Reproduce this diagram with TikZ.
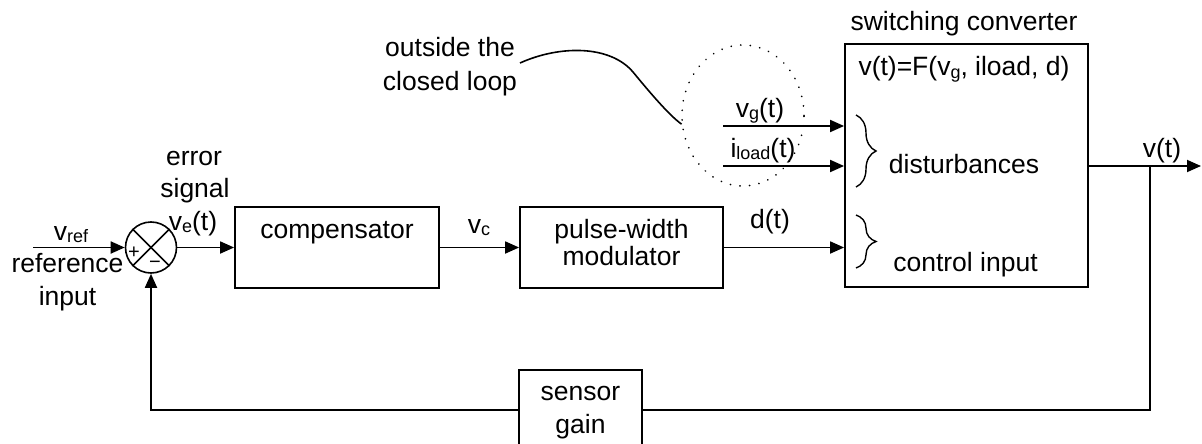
\documentclass[tikz,border=0pt]{standalone}
\usepackage{fontspec}
\setmainfont{Liberation Sans}
\usetikzlibrary{arrows.meta,shapes.geometric,decorations.pathreplacing}

% smaller, slightly lowered index text (v_ref, v_e, ...)
\newcommand{\lowtxt}[1]{\raisebox{-2pt}{\fontsize{18}{18}\selectfont #1}}

\tikzset{
  txt/.style={anchor=base, inner sep=0pt, font=\fontsize{26.5}{31}\selectfont},
  signtxt/.style={anchor=base, inner sep=0pt, font=\fontsize{20}{20}\selectfont},
  blockbox/.style={draw, line width=1.8pt, rectangle, inner sep=0pt},
  wire/.style={line width=1.8pt},
  sig/.style={wire, -{Triangle[length=14pt,width=12pt]}},
  bracemark/.style={line width=1.4pt, decorate,
    decoration={brace, amplitude=20pt, aspect=0.5}},
}

\begin{document}
\begin{tikzpicture}[x=1pt, y=-1pt]
\clip (0,0) rectangle (1202,444);
\useasboundingbox (0,0) rectangle (1202,444);

% ---- blocks ----
\node[draw, circle, line width=1.6pt, minimum size=51pt, inner sep=0pt] (sum) at (151,247.5) {};
\draw[line width=1.5pt] (sum.north west) -- (sum.south east);
\draw[line width=1.5pt] (sum.south west) -- (sum.north east);
\node[signtxt] (plus) at (134,258) {+};
\node[signtxt] (minus) at (155,268) {−};

\node[blockbox, minimum width=204pt, minimum height=81pt] (comp) at (337,247.5) {};
\node[blockbox, minimum width=203pt, minimum height=81pt] (pwm) at (621.5,247.5) {};
\node[blockbox, minimum width=243pt, minimum height=243pt] (conv) at (966.5,165.5) {};
\node[blockbox, minimum width=123pt, minimum height=100pt] (sensor) at (580.5,420) {};

% dotted region around the disturbance inputs
\node[draw, ellipse, line width=1.8pt, line cap=round, dash pattern=on 0.1pt off 9.5pt,
      minimum width=122pt, minimum height=141pt, inner sep=0pt] (loop) at (743,115.5) {};

% ---- texts ----
\node[txt] (vreflbl) at (71,240) {v\lowtxt{ref}};
\node[txt] (refa) at (67.5,272) {reference};
\node[txt] (refb) at (67.5,305) {input};
\node[txt] (erra) at (194,165) {error};
\node[txt] (errb) at (195,197) {signal};
\node[txt] (velbl) at (193,230) {v\lowtxt{e}(t)};
\node[txt] (comptxt) at (337,238) {compensator};
\node[txt] (vclbl) at (479,233) {v\lowtxt{c}};
\node[txt] (pwma) at (621.5,238) {pulse-width};
\node[txt] (pwmb) at (621.5,265) {modulator};
\node[txt] (dlbl) at (770,228) {d(t)};
\node[txt] (convtitle) at (964,31) {switching converter};
\node[txt] (convfn) at (964,76) {v(t)=F(v\lowtxt{g}, iload, d)};
\node[txt] (dist) at (964,173) {disturbances};
\node[txt] (ctrl) at (965.5,271) {control input};
\node[txt] (vglbl) at (760,117) {v\lowtxt{g}(t)};
\node[txt] (iloadlbl) at (763,157) {i\lowtxt{load}(t)};
\node[txt] (vout) at (1162,157) {v(t)};
\node[txt] (notea) at (450,57) {outside the};
\node[txt] (noteb) at (450,90) {closed loop};
\node[txt] (sena) at (580.5,400) {sensor};
\node[txt] (senb) at (580.5,433) {gain};

% ---- free ends and junctions ----
\coordinate (vrefin) at (33,247.5);
\coordinate (vgin) at (723,126);
\coordinate (iloadin) at (723,166);
\coordinate (br) at (1150,166);
\coordinate (out) at (1201,166);
\coordinate (fbR) at (1150,410);
\coordinate (lead) at (520,63);

% ---- forward path ----
\draw[sig] (vrefin) -- (sum.west);
\draw[sig] (sum.east) -- (comp.west);
\draw[sig] (comp.east) -- (pwm.west);
\draw[sig] (pwm.east) -- (pwm.east -| conv.west);
\draw[sig] (vgin) -- (vgin -| conv.west);
\draw[sig] (iloadin) -- (iloadin -| conv.west);
\draw[sig] (br -| conv.east) -- (out);

% ---- feedback path ----
\draw[wire] (br) -- (fbR) -- (fbR -| sensor.east);
\draw[sig] (fbR -| sensor.west) -| (sum.south);

% ---- braces inside the converter ----
\draw[bracemark] (856,115) -- (856,187);
\draw[bracemark] (856,215) -- (856,268);

% ---- leader from the note to the dotted region ----
\draw[line width=1.6pt] (lead) .. controls (560,45) and (610,45) .. (633,72)
  .. controls (651,94) and (670,116) .. (loop.188);
\end{tikzpicture}
\end{document}
